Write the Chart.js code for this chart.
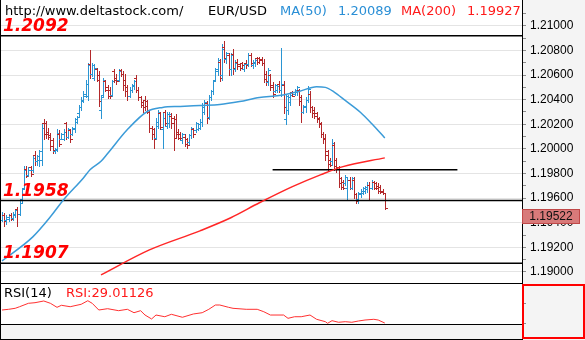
<!DOCTYPE html>
<html>
<head>
<meta charset="utf-8">
<script src="https://cdn.jsdelivr.net/npm/chart.js@4.4.1/dist/chart.umd.min.js"></script>
<style>
    body { margin: 0; background: #f4f4f4; }
    #wrap { position: relative; width: 585px; height: 340px; overflow: hidden; }
    #price { position: absolute; left: 0; top: 0; }
    #rsi { position: absolute; left: 0; top: 284px; }
</style>
</head>
<body>
<div id="wrap">
    <canvas id="price" width="585" height="284"></canvas>
    <canvas id="rsi" width="585" height="56"></canvas>
</div>
<script>
// EUR/USD bars, oldest first
let opens = [
    1.1942, 1.1946, 1.1942, 1.1943, 1.1946, 1.1944, 1.1946, 1.1951, 1.1947, 1.1959,
    1.1968, 1.1984, 1.1979, 1.1985, 1.1983, 1.1995, 1.1990, 1.1991, 1.1991, 1.2021,
    1.2021, 1.2014, 1.2011, 1.2007, 1.1998, 1.1999, 1.2012, 1.2008, 1.2008, 1.2021,
    1.2010, 1.2015, 1.2012, 1.2016, 1.2022, 1.2029, 1.2034, 1.2039, 1.2043, 1.2043,
    1.2069, 1.2061, 1.2058, 1.2065, 1.2060, 1.2032, 1.2044, 1.2055, 1.2050, 1.2048,
    1.2044, 1.2063, 1.2058, 1.2056, 1.2064, 1.2061, 1.2056, 1.2050, 1.2043, 1.2048,
    1.2051, 1.2058, 1.2048, 1.2042, 1.2038, 1.2040, 1.2039, 1.2030, 1.2017, 1.2016,
    1.2009, 1.2019, 1.2029, 1.2016, 1.2030, 1.2019, 1.2021, 1.2027, 1.2025, 1.2024,
    1.2014, 1.2012, 1.2007, 1.2010, 1.2008, 1.2006, 1.2011, 1.2016, 1.2015, 1.2016,
    1.2017, 1.2022, 1.2030, 1.2037, 1.2026, 1.2042, 1.2047, 1.2056, 1.2063, 1.2071,
    1.2060, 1.2083, 1.2073, 1.2076, 1.2065, 1.2077, 1.2065, 1.2071, 1.2069, 1.2070,
    1.2065, 1.2070, 1.2069, 1.2076, 1.2068, 1.2070, 1.2074, 1.2074, 1.2073, 1.2070,
    1.2061, 1.2054, 1.2060, 1.2052, 1.2047, 1.2048, 1.2053, 1.2048, 1.2052, 1.2024,
    1.2032, 1.2038, 1.2046, 1.2045, 1.2046, 1.2048, 1.2042, 1.2030, 1.2034, 1.2040,
    1.2045, 1.2034, 1.2032, 1.2029, 1.2025, 1.2021, 1.2012, 1.2009, 1.1998, 1.1991,
    1.1990, 1.2003, 1.1991, 1.1985, 1.1976, 1.1973, 1.1972, 1.1968, 1.1975, 1.1968,
    1.1975, 1.1963, 1.1959, 1.1963, 1.1964, 1.1966, 1.1967, 1.1971, 1.1968, 1.1973,
    1.1972, 1.1970, 1.1969, 1.1966, 1.1964
]
let highs = [
    1.1949, 1.1948, 1.1946, 1.1947, 1.1948, 1.1949, 1.1951, 1.1953, 1.1959, 1.1968,
    1.1986, 1.1986, 1.1985, 1.1986, 1.1995, 1.1998, 1.1995, 1.1999, 1.2021, 1.2024,
    1.2023, 1.2017, 1.2013, 1.2009, 1.2001, 1.2016, 1.2015, 1.2013, 1.2016, 1.2022,
    1.2017, 1.2016, 1.2018, 1.2025, 1.2027, 1.2036, 1.2042, 1.2047, 1.2056, 1.2070,
    1.2080, 1.2070, 1.2069, 1.2066, 1.2063, 1.2044, 1.2058, 1.2056, 1.2052, 1.2050,
    1.2056, 1.2065, 1.2061, 1.2065, 1.2065, 1.2063, 1.2061, 1.2052, 1.2050, 1.2053,
    1.2056, 1.2060, 1.2050, 1.2043, 1.2040, 1.2043, 1.2040, 1.2032, 1.2019, 1.2017,
    1.2025, 1.2032, 1.2030, 1.2030, 1.2032, 1.2030, 1.2030, 1.2029, 1.2027, 1.2028,
    1.2016, 1.2014, 1.2013, 1.2012, 1.2009, 1.2012, 1.2018, 1.2017, 1.2022, 1.2021,
    1.2024, 1.2037, 1.2040, 1.2039, 1.2044, 1.2048, 1.2056, 1.2066, 1.2074, 1.2073,
    1.2085, 1.2088, 1.2079, 1.2078, 1.2078, 1.2081, 1.2072, 1.2073, 1.2070, 1.2071,
    1.2070, 1.2072, 1.2078, 1.2078, 1.2072, 1.2074, 1.2075, 1.2075, 1.2075, 1.2073,
    1.2063, 1.2066, 1.2061, 1.2054, 1.2053, 1.2052, 1.2055, 1.2082, 1.2055, 1.2045,
    1.2044, 1.2046, 1.2047, 1.2049, 1.2051, 1.2049, 1.2044, 1.2036, 1.2042, 1.2051,
    1.2047, 1.2035, 1.2034, 1.2030, 1.2026, 1.2022, 1.2014, 1.2012, 1.1999, 1.1993,
    1.2008, 1.2006, 1.1993, 1.1986, 1.1977, 1.1975, 1.1979, 1.1977, 1.1977, 1.1977,
    1.1977, 1.1964, 1.1965, 1.1967, 1.1969, 1.1970, 1.1973, 1.1973, 1.1975, 1.1974,
    1.1973, 1.1972, 1.1971, 1.1967, 1.1964
]
let lows = [
    1.1941, 1.1937, 1.1939, 1.1941, 1.1942, 1.1942, 1.1945, 1.1937, 1.1946, 1.1957,
    1.1967, 1.1977, 1.1978, 1.1978, 1.1981, 1.1987, 1.1987, 1.1986, 1.1987, 1.2008,
    1.2009, 1.2008, 1.1999, 1.1997, 1.1997, 1.1998, 1.2002, 1.2008, 1.2007, 1.2008,
    1.2009, 1.2006, 1.2011, 1.2014, 1.2021, 1.2027, 1.2032, 1.2038, 1.2042, 1.2040,
    1.2058, 1.2059, 1.2056, 1.2055, 1.2035, 1.2025, 1.2043, 1.2047, 1.2041, 1.2041,
    1.2043, 1.2054, 1.2053, 1.2055, 1.2059, 1.2048, 1.2043, 1.2040, 1.2042, 1.2046,
    1.2049, 1.2046, 1.2040, 1.2034, 1.2030, 1.2032, 1.2029, 1.2014, 1.2008, 1.2001,
    1.2008, 1.2017, 1.2016, 1.2001, 1.2019, 1.2017, 1.2018, 1.2017, 1.1999, 1.2009,
    1.2008, 1.2008, 1.2005, 1.2002, 1.2001, 1.2004, 1.2009, 1.2010, 1.2014, 1.2015,
    1.2016, 1.2019, 1.2028, 1.2021, 1.2024, 1.2040, 1.2045, 1.2055, 1.2060, 1.2055,
    1.2056, 1.2071, 1.2070, 1.2060, 1.2060, 1.2061, 1.2063, 1.2065, 1.2064, 1.2065,
    1.2063, 1.2066, 1.2067, 1.2067, 1.2066, 1.2067, 1.2069, 1.2070, 1.2068, 1.2054,
    1.2052, 1.2052, 1.2048, 1.2042, 1.2046, 1.2046, 1.2046, 1.2043, 1.2029, 1.2020,
    1.2028, 1.2036, 1.2043, 1.2044, 1.2044, 1.2036, 1.2022, 1.2029, 1.2030, 1.2038,
    1.2030, 1.2026, 1.2025, 1.2022, 1.2018, 1.2010, 1.2005, 1.1991, 1.1983, 1.1986,
    1.1987, 1.1983, 1.1981, 1.1969, 1.1967, 1.1967, 1.1971, 1.1959, 1.1967, 1.1967,
    1.1960, 1.1956, 1.1956, 1.1961, 1.1963, 1.1964, 1.1965, 1.1959, 1.1967, 1.1967,
    1.1967, 1.1964, 1.1964, 1.1963, 1.1951
]
let closes = [
    1.1946, 1.1941, 1.1945, 1.1946, 1.1943, 1.1947, 1.1950, 1.1947, 1.1956, 1.1967,
    1.1983, 1.1978, 1.1983, 1.1980, 1.1993, 1.1990, 1.1994, 1.1998, 1.2017, 1.2012,
    1.2012, 1.2010, 1.2002, 1.1999, 1.2000, 1.2013, 1.2004, 1.2012, 1.2014, 1.2010,
    1.2016, 1.2008, 1.2017, 1.2024, 1.2026, 1.2034, 1.2040, 1.2045, 1.2053, 1.2068,
    1.2061, 1.2068, 1.2066, 1.2056, 1.2039, 1.2042, 1.2056, 1.2048, 1.2043, 1.2043,
    1.2055, 1.2056, 1.2055, 1.2063, 1.2061, 1.2052, 1.2047, 1.2043, 1.2048, 1.2052,
    1.2055, 1.2048, 1.2042, 1.2036, 1.2034, 1.2035, 1.2030, 1.2017, 1.2012, 1.2008,
    1.2022, 1.2030, 1.2018, 1.2025, 1.2021, 1.2028, 1.2028, 1.2021, 1.2009, 1.2012,
    1.2009, 1.2009, 1.2012, 1.2004, 1.2003, 1.2011, 1.2017, 1.2012, 1.2021, 1.2020,
    1.2022, 1.2034, 1.2038, 1.2025, 1.2042, 1.2047, 1.2055, 1.2065, 1.2072, 1.2058,
    1.2081, 1.2074, 1.2078, 1.2065, 1.2076, 1.2066, 1.2070, 1.2067, 1.2066, 1.2068,
    1.2069, 1.2068, 1.2076, 1.2070, 1.2071, 1.2072, 1.2071, 1.2072, 1.2070, 1.2057,
    1.2055, 1.2064, 1.2050, 1.2045, 1.2052, 1.2051, 1.2048, 1.2053, 1.2034, 1.2043,
    1.2042, 1.2044, 1.2043, 1.2048, 1.2050, 1.2039, 1.2030, 1.2035, 1.2040, 1.2049,
    1.2034, 1.2029, 1.2027, 1.2024, 1.2020, 1.2012, 1.2008, 1.1995, 1.1988, 1.1987,
    1.2005, 1.1986, 1.1985, 1.1972, 1.1969, 1.1968, 1.1977, 1.1975, 1.1968, 1.1976,
    1.1963, 1.1958, 1.1964, 1.1966, 1.1968, 1.1969, 1.1971, 1.1968, 1.1973, 1.1968,
    1.1968, 1.1966, 1.1965, 1.1964, 1.19522
]

// moving averages, read at a few bars and joined smoothly
let ma50Bars = [0, 14, 22, 28, 37, 40, 45, 48, 57, 66, 73, 81, 90, 99, 108, 117, 126, 135, 143, 147, 151, 156, 163, 168, 174]
let ma50 = [1.19090, 1.19285, 1.19448, 1.19587, 1.19764, 1.19831, 1.19899, 1.19962, 1.20157, 1.20304,
    1.20337, 1.20345, 1.20353, 1.20361, 1.20385, 1.20418, 1.20434, 1.20467, 1.20505, 1.20500,
    1.20462, 1.20394, 1.20296, 1.20206, 1.20089]
let ma200Bars = [45, 67, 90, 104, 117, 132, 145, 155, 174]
let ma200 = [1.18976, 1.19179, 1.19334, 1.19440, 1.19562, 1.19693, 1.19791, 1.19856, 1.19927]

// horizontal levels and the short support line
let levels = [1.2092, 1.1958, 1.1907]
let shortLine = { fromBar: 123, toBar: 207, value: 1.1983 }

// RSI(14)
let rsiBars = [0, 3, 6, 8, 12, 15, 19, 22, 25, 27, 31, 36, 39, 41, 44, 48, 53, 57, 60, 63,
    65, 68, 70, 74, 77, 82, 87, 91, 94, 97, 99, 103, 105, 111, 116, 119, 122, 128, 130, 133,
    136, 140, 143, 147, 148, 150, 153, 156, 159, 162, 165, 169, 171, 174]
let rsi = [52.7, 54.0, 55.8, 58.7, 64.9, 66.0, 69.1, 64.9, 57.6, 61.3,
    58.7, 63.1, 69.6, 64.9, 52.7, 55.1, 51.5, 54.0, 47.8, 51.5,
    43.6, 36.4, 43.6, 40.5, 44.9, 39.5, 45.5, 47.8, 54.0, 61.8,
    61.8, 57.6, 55.8, 54.0, 54.0, 49.6, 43.6, 43.6, 37.6, 40.5,
    40.5, 43.6, 35.8, 31.5, 28.5, 33.3, 30.4, 31.5, 30.4, 32.7,
    34.5, 35.8, 34.5, 29.01126]

// price scale marks every 0.001, labels every 0.002
let priceTickFirst = 1.190
let priceTickLast = 1.211
let priceTickStep = 0.001
let rsiTicks = [65, 47, 29, 11]

const xMin = -0.91
const xMax = 236.36
const priceMin = 1.18902
const priceMax = 1.21210

const upColor = '#2a95d3'
const downColor = '#b3282a'
const ma50Color = '#3b9bd8'
const ma200Color = '#ff2626'

Chart.defaults.font.family = 'Liberation Sans'

function isMajor(v) {
    return Math.round(v * 1000) % 2 === 0
}

function points(xs, ys) {
    return xs.map((x, k) => ({ x: x, y: ys[k] }))
}

function priceTicks(s) {
    let ticks = []
    let n = Math.round((priceTickLast - priceTickFirst) / priceTickStep)
    for (let k = 0; k <= n; k++) {
        ticks.push({ value: Math.round((priceTickFirst + k * priceTickStep) * 1000) / 1000 })
    }
    s.ticks = ticks
}

// fixed axis width, no extra room for the end labels
function fitRight(s) {
    s.width = 63
    s.paddingTop = 0
    s.paddingBottom = 0
}

// gray frame, white plotting area
const panelBg = {
    id: 'panelBg',
    beforeDraw(chart) {
        let { ctx, chartArea: a } = chart
        ctx.save()
        ctx.fillStyle = '#f4f4f4'
        ctx.fillRect(0, 0, chart.width, chart.height)
        ctx.fillStyle = '#ffffff'
        ctx.fillRect(a.left, a.top, a.width, a.height)
        ctx.restore()
    }
}

// open/high/low/close bars
const ohlcBars = {
    id: 'ohlcBars',
    beforeDatasetsDraw(chart) {
        let { ctx, chartArea: a, scales } = chart
        ctx.save()
        ctx.beginPath()
        ctx.rect(a.left, a.top, a.width, a.height)
        ctx.clip()
        for (let i = 0; i < opens.length; i++) {
            let c = Math.round(scales.x.getPixelForValue(i))
            let yh = Math.round(scales.y.getPixelForValue(highs[i]))
            let yl = Math.round(scales.y.getPixelForValue(lows[i]))
            let yo = Math.round(scales.y.getPixelForValue(opens[i]))
            let yc = Math.round(scales.y.getPixelForValue(closes[i]))
            ctx.fillStyle = closes[i] >= opens[i] ? upColor : downColor
            ctx.fillRect(c, yh, 1, yl - yh + 1)
            ctx.fillRect(c - 2, yo, 2, 1)
            ctx.fillRect(c + 1, yc, 2, 1)
        }
        ctx.restore()
    }
}

// header, level captions, last price box, borders
const priceNotes = {
    id: 'priceNotes',
    afterDraw(chart) {
        let { ctx, chartArea: a, scales } = chart
        ctx.save()

        ctx.font = 'italic bold 17px "DejaVu Sans"'
        ctx.fillStyle = '#ff0000'
        ctx.textBaseline = 'alphabetic'
        levels.forEach(v => {
            ctx.fillText(v.toFixed(4), a.left + 3, scales.y.getPixelForValue(v) - 5)
        })

        ctx.font = '13px "DejaVu Sans"'
        ctx.fillStyle = '#000000'
        ctx.fillText('http://www.deltastock.com/', 5, 15)
        ctx.fillText('EUR/USD', 208, 15)
        ctx.fillStyle = '#2a8fd6'
        ctx.fillText('MA(50)', 280, 15)
        ctx.fillText(ma50[ma50.length - 1].toFixed(5), 338, 15)
        ctx.fillStyle = '#ff1a1a'
        ctx.fillText('MA(200)', 401, 15)
        ctx.fillText(ma200[ma200.length - 1].toFixed(5), 467, 15)

        let last = closes[closes.length - 1]
        let py = Math.round(scales.y.getPixelForValue(last))
        ctx.fillStyle = '#d87a7a'
        ctx.fillRect(a.right, py + 1, 58, 15)
        ctx.strokeStyle = '#c04848'
        ctx.lineWidth = 1
        ctx.strokeRect(a.right + 0.5, py + 1.5, 57, 14)
        ctx.font = '12px "Liberation Sans"'
        ctx.fillStyle = '#111111'
        ctx.textAlign = 'center'
        ctx.textBaseline = 'middle'
        ctx.fillText(last.toFixed(5), a.right + 29, py + 9)

        ctx.fillStyle = '#000000'
        ctx.fillRect(0, 0, 1, chart.height)
        ctx.fillRect(0, chart.height - 1, a.right, 1)
        ctx.restore()
    }
}

let levelSets = levels.map(v => ({
    data: [{ x: xMin, y: v }, { x: xMax, y: v }],
    borderColor: '#000000',
    borderWidth: 1.5,
    pointRadius: 0
}))

new Chart(document.getElementById('price'), {
    type: 'line',
    data: {
        datasets: [
            {
                label: 'MA(50)',
                data: points(ma50Bars, ma50),
                borderColor: ma50Color,
                borderWidth: 1.5,
                pointRadius: 0,
                cubicInterpolationMode: 'monotone'
            },
            {
                label: 'MA(200)',
                data: points(ma200Bars, ma200),
                borderColor: ma200Color,
                borderWidth: 1.5,
                pointRadius: 0,
                cubicInterpolationMode: 'monotone'
            },
            {
                data: [{ x: shortLine.fromBar, y: shortLine.value }, { x: shortLine.toBar, y: shortLine.value }],
                borderColor: '#000000',
                borderWidth: 1.5,
                pointRadius: 0
            },
            ...levelSets
        ]
    },
    options: {
        responsive: false,
        animation: false,
        devicePixelRatio: 1,
        layout: { padding: 0 },
        plugins: {
            legend: { display: false },
            tooltip: { enabled: false }
        },
        scales: {
            x: { type: 'linear', display: false, min: xMin, max: xMax },
            y: {
                position: 'right',
                bounds: 'data',
                min: priceMin,
                max: priceMax,
                afterFit: fitRight,
                afterBuildTicks: priceTicks,
                ticks: {
                    autoSkip: false,
                    padding: 4,
                    color: '#000000',
                    font: { size: 12 },
                    callback: v => isMajor(v) ? v.toFixed(5) : ''
                },
                grid: {
                    color: ctx => (ctx.tick && isMajor(ctx.tick.value)) ? '#e4e4e4' : 'rgba(0,0,0,0)',
                    tickColor: '#8c8c8c',
                    tickLength: 4
                },
                border: { display: true, color: '#000000' }
            }
        }
    },
    plugins: [panelBg, ohlcBars, priceNotes]
})

// RSI window: captions, time strip, scale frame
const rsiNotes = {
    id: 'rsiNotes',
    afterDraw(chart) {
        let { ctx, chartArea: a } = chart
        ctx.save()
        ctx.fillStyle = '#f4f4f4'
        ctx.fillRect(0, 41, a.right, chart.height - 41)
        ctx.fillStyle = '#000000'
        ctx.fillRect(0, 40, a.right, 1)
        ctx.fillRect(0, 55, a.right, 1)
        ctx.fillRect(0, 0, 1, chart.height)

        ctx.font = '13px "DejaVu Sans"'
        ctx.textBaseline = 'alphabetic'
        ctx.fillStyle = '#000000'
        ctx.fillText('RSI(14)', 4, 13)
        ctx.fillStyle = '#ff1a1a'
        ctx.fillText('RSI:' + rsi[rsi.length - 1].toFixed(5), 66, 13)

        ctx.strokeStyle = '#ff0000'
        ctx.lineWidth = 2
        ctx.strokeRect(a.right + 1, 1, 61, 53)
        ctx.restore()
    }
}

new Chart(document.getElementById('rsi'), {
    type: 'line',
    data: {
        datasets: [{
            label: 'RSI',
            data: points(rsiBars, rsi),
            borderColor: '#ff3030',
            borderWidth: 1,
            pointRadius: 0,
            tension: 0
        }]
    },
    options: {
        responsive: false,
        animation: false,
        devicePixelRatio: 1,
        layout: { padding: { bottom: 1 } },
        plugins: {
            legend: { display: false },
            tooltip: { enabled: false }
        },
        scales: {
            x: { type: 'linear', display: false, min: xMin, max: xMax },
            y: {
                position: 'right',
                bounds: 'data',
                min: 0,
                max: 100,
                afterFit: fitRight,
                afterBuildTicks: s => { s.ticks = rsiTicks.map(v => ({ value: v })) },
                ticks: { callback: () => '', padding: 0 },
                grid: { drawOnChartArea: false, tickColor: '#8c8c8c', tickLength: 4 },
                border: { display: true, color: '#000000' }
            }
        }
    },
    plugins: [panelBg, rsiNotes]
})
</script>
</body>
</html>
